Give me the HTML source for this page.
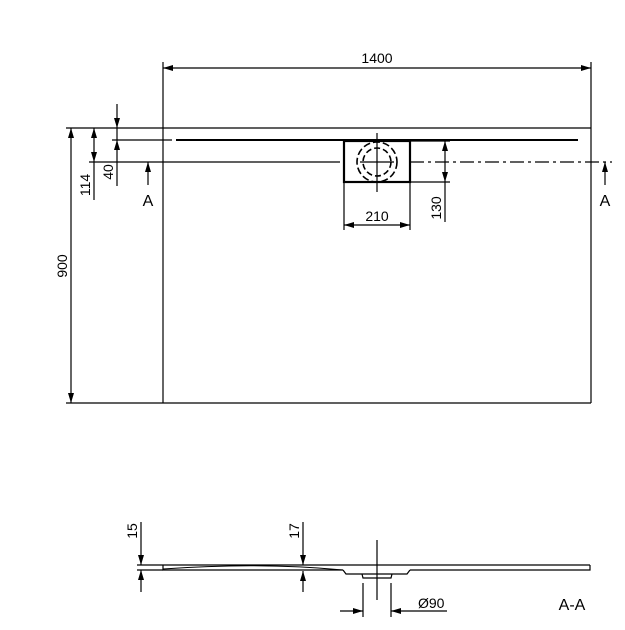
<!DOCTYPE html>
<html><head><meta charset="utf-8"><style>html,body{margin:0;padding:0;background:#fff}svg{display:block}</style></head>
<body>
<svg width="625" height="630" viewBox="0 0 625 630" xmlns="http://www.w3.org/2000/svg" font-family="Liberation Sans, sans-serif" font-size="14" fill="none" stroke="#000">
<defs>
<marker id="a" viewBox="0 0 10 6" refX="10" refY="3" markerWidth="10" markerHeight="6" orient="auto-start-reverse" markerUnits="userSpaceOnUse"><path d="M0,0L10,3L0,6z" fill="#000" stroke="none"/></marker>
</defs>
<g stroke-width="1.2">
<!-- plan -->
<line x1="163" y1="62" x2="163" y2="403"/>
<line x1="591" y1="62" x2="591" y2="403"/>
<line x1="66" y1="128" x2="591" y2="128"/>
<line x1="66" y1="403" x2="591" y2="403"/>
<line x1="163" y1="68" x2="591" y2="68" marker-start="url(#a)" marker-end="url(#a)"/>
<line x1="112" y1="140" x2="172" y2="140"/>
<line x1="176" y1="140" x2="578" y2="140" stroke-width="2"/>
<line x1="89" y1="162" x2="340" y2="162"/>
<line x1="410" y1="162" x2="612" y2="162" stroke-dasharray="14,4,3,4"/>
<rect x="344" y="141" width="66" height="41" stroke-width="2.2"/>
<circle cx="377" cy="162" r="20" stroke-dasharray="7,3" stroke-width="1.6"/>
<circle cx="377" cy="162" r="14" stroke-dasharray="6,3" stroke-width="1.6"/>
<line x1="377" y1="133" x2="377" y2="192"/>
<line x1="360" y1="162" x2="394" y2="162"/>
<line x1="410" y1="141" x2="450" y2="141"/>
<line x1="410" y1="182" x2="450" y2="182"/>
<line x1="445" y1="141" x2="445" y2="182" marker-start="url(#a)" marker-end="url(#a)"/>
<line x1="445" y1="182" x2="445" y2="222"/>
<line x1="344" y1="182" x2="344" y2="230"/>
<line x1="410" y1="182" x2="410" y2="230"/>
<line x1="344" y1="225" x2="410" y2="225" marker-start="url(#a)" marker-end="url(#a)"/>
<line x1="71" y1="128" x2="71" y2="403" marker-start="url(#a)" marker-end="url(#a)"/>
<line x1="94" y1="128" x2="94" y2="162" marker-start="url(#a)" marker-end="url(#a)"/>
<line x1="94" y1="162" x2="94" y2="200"/>
<line x1="117" y1="104" x2="117" y2="128" marker-end="url(#a)"/>
<line x1="117" y1="128" x2="117" y2="140"/>
<line x1="117" y1="140" x2="117" y2="162" marker-start="url(#a)"/>
<line x1="117" y1="162" x2="117" y2="186"/>
<line x1="148" y1="185" x2="148" y2="162" marker-end="url(#a)"/>
<line x1="605" y1="185" x2="605" y2="162" marker-end="url(#a)"/>
<!-- section -->
<line x1="137" y1="565" x2="590" y2="565"/>
<line x1="137" y1="570" x2="163" y2="570"/>
<path d="M163,565 L163,570 L343,570 M410,570 L590,570 L590,565"/>
<path d="M163,569 Q260,562 343,570" stroke-width="1"/>
<path d="M343,570 L346,574 L407,574 L410,570 M362,574 L363,578 L391,578 L392,574"/>
<line x1="377" y1="540" x2="377" y2="600"/>
<line x1="141" y1="522" x2="141" y2="565" marker-end="url(#a)"/>
<line x1="141" y1="592" x2="141" y2="570" marker-end="url(#a)"/>
<line x1="303" y1="522" x2="303" y2="565" marker-end="url(#a)"/>
<line x1="303" y1="592" x2="303" y2="571" marker-end="url(#a)"/>
<line x1="363" y1="583" x2="363" y2="617"/>
<line x1="391" y1="583" x2="391" y2="617"/>
<line x1="340" y1="611" x2="363" y2="611" marker-end="url(#a)"/>
<line x1="447" y1="611" x2="391" y2="611" marker-end="url(#a)"/>
</g>
<g fill="#000" stroke="none">
<text x="377" y="63" text-anchor="middle">1400</text>
<text x="377" y="221" text-anchor="middle">210</text>
<text transform="translate(441,208) rotate(-90)" text-anchor="middle">130</text>
<text transform="translate(67,266) rotate(-90)" text-anchor="middle">900</text>
<text transform="translate(90,185) rotate(-90)" text-anchor="middle">114</text>
<text transform="translate(113,172) rotate(-90)" text-anchor="middle">40</text>
<text x="148" y="206" text-anchor="middle" font-size="16">A</text>
<text x="605" y="206" text-anchor="middle" font-size="16">A</text>
<text transform="translate(137,531) rotate(-90)" text-anchor="middle">15</text>
<text transform="translate(299,531) rotate(-90)" text-anchor="middle">17</text>
<text x="418" y="608">Ø90</text>
<text x="572" y="610" text-anchor="middle" font-size="16">A-A</text>
</g>
</svg>
</body></html>
